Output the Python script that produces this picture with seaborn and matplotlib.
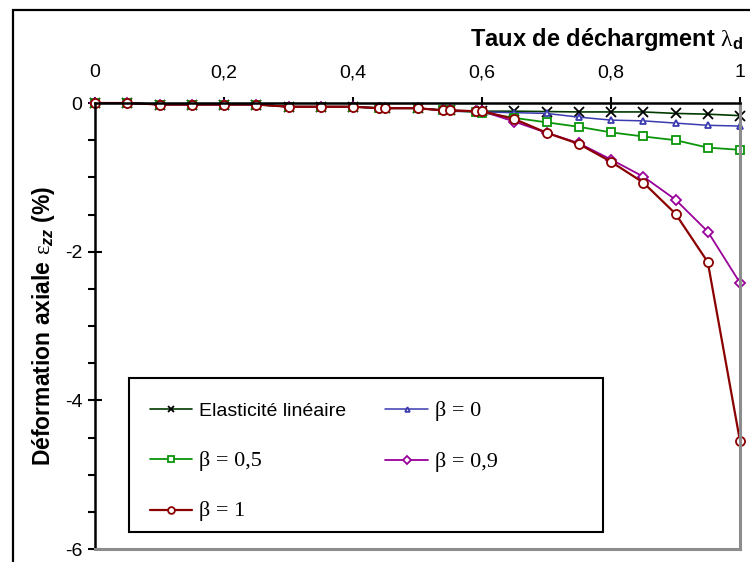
from matplotlib import pyplot as plt
from matplotlib.patches import Rectangle
import pandas as pd
import seaborn as sns
import numpy as np

sns.set_style('white')
plt.rcParams['font.family'] = ['Liberation Sans', 'DejaVu Sans']
plt.rcParams['mathtext.fontset'] = 'custom'
plt.rcParams['mathtext.rm'] = 'Liberation Serif'
plt.rcParams['mathtext.bf'] = 'Liberation Sans:bold'
plt.rcParams['mathtext.it'] = 'Liberation Sans:italic:bold'
for k in ['text.color', 'axes.labelcolor', 'xtick.color', 'ytick.color']:
    plt.rcParams[k] = 'black'

# taux de dechargement
lam_elast = [0, 0.05, 0.1, 0.15, 0.2, 0.25, 0.3, 0.35, 0.4, 0.45, 0.5,
             0.55, 0.6, 0.65, 0.7, 0.75, 0.8, 0.85, 0.9, 0.95, 1.0]
lam = [0, 0.05, 0.1, 0.15, 0.2, 0.25, 0.3, 0.35, 0.4, 0.44, 0.45, 0.5,
       0.54, 0.55, 0.59, 0.6, 0.65, 0.7, 0.75, 0.8, 0.85, 0.9, 0.95, 1.0]

# deformation axiale (%)
eps_elast = [0, 0, -0.02, -0.02, -0.02, -0.02, -0.05, -0.05, -0.05, -0.07, -0.07,
             -0.1, -0.11, -0.11, -0.115, -0.12, -0.12, -0.12, -0.14, -0.15, -0.17]
eps_b0 = [0, 0, -0.02, -0.02, -0.02, -0.02, -0.05, -0.05, -0.05, -0.07, -0.07, -0.07,
          -0.1, -0.11, -0.12, -0.12, -0.13, -0.14, -0.19, -0.23, -0.24, -0.27, -0.3, -0.31]
eps_b05 = [0, 0, -0.02, -0.02, -0.02, -0.02, -0.05, -0.05, -0.05, -0.07, -0.07, -0.07,
           -0.1, -0.1, -0.12, -0.13, -0.2, -0.26, -0.32, -0.395, -0.45, -0.5, -0.6, -0.63]
eps_b09 = [0, 0, -0.02, -0.02, -0.02, -0.02, -0.05, -0.05, -0.05, -0.07, -0.07, -0.07,
           -0.1, -0.1, -0.11, -0.11, -0.25, -0.4, -0.54, -0.76, -0.99, -1.3, -1.73, -2.42]
eps_b1 = [0, 0, -0.02, -0.02, -0.02, -0.02, -0.05, -0.05, -0.05, -0.07, -0.07, -0.07,
          -0.1, -0.1, -0.11, -0.11, -0.215, -0.4, -0.55, -0.79, -1.07, -1.49, -2.14, -4.55]

xticks = [0, 0.2, 0.4, 0.6, 0.8, 1.0]
xticklabels = ['0', '0,2', '0,4', '0,6', '0,8', '1']
yticks = [0, -2, -4, -6]
yticklabels = ['0', '-2', '-4', '-6']

fig = plt.figure(figsize=(7.5, 5.62), dpi=100)
ax = fig.add_axes([0.1267, 0.0231, 0.86, 0.7936])

series = [
    ('Elasticité linéaire', lam_elast, eps_elast, '#003a00', 'x', 6.5, 'black', 1.2),
    ('β = 0', lam, eps_b0, '#3b3bb0', '^', 4.5, '#3b3bb0', 1.1),
    ('β = 0,5', lam, eps_b05, '#0a950a', 's', 5.5, '#0a950a', 1.3),
    ('β = 0,9', lam, eps_b09, '#990099', 'D', 5.5, '#990099', 1.3),
    ('β = 1', lam, eps_b1, '#8b0000', 'o', 6.5, '#8b0000', 1.6),
]
handles = {}
for name, xs, ys, col, mk, ms, mec, lw in series:
    df = pd.DataFrame({'lam': xs, 'eps': ys})
    sns.lineplot(data=df, x='lam', y='eps', ax=ax, color=col, lw=lw, marker=mk,
                 markersize=ms, markeredgecolor=mec, markerfacecolor='white',
                 markeredgewidth=1.3, sort=False, label=name, clip_on=False)
    handles[name] = ax.get_lines()[-1]

ax.set_xlim(0, 1)
ax.set_ylim(-6, 0)
ax.xaxis.tick_top()
ax.set_xticks(xticks)
ax.set_xticklabels(xticklabels, fontsize=14)
ax.set_yticks(yticks)
ax.set_yticklabels(yticklabels, fontsize=14)
ax.set_yticks(np.arange(-6, 0.01, 0.5), minor=True)
ax.tick_params(axis='x', which='major', direction='inout', length=9, width=1.5,
               top=True, bottom=False, pad=11)
ax.tick_params(axis='y', which='major', direction='inout', length=10, width=1.5, left=True, pad=4)
ax.tick_params(axis='y', which='minor', direction='out', length=5, width=1.5, left=True)
ax.set_xlabel('')
ax.set_ylabel('Déformation axiale ' + r'$\mathrm{\varepsilon}_{zz}$' + ' (%)',
              fontsize=16.5, fontweight='bold', labelpad=6)
for side in ['top', 'left']:
    ax.spines[side].set_color('black')
    ax.spines[side].set_linewidth(1.8)
for side in ['right', 'bottom']:
    ax.spines[side].set_color('#8c8c8c')
    ax.spines[side].set_linewidth(2.2)

order = ['Elasticité linéaire', 'β = 0,5', 'β = 1', 'β = 0', 'β = 0,9']
leg = ax.legend([handles[k] for k in order], order, loc='lower left',
                bbox_to_anchor=(0.068, 0.038), ncol=2, fontsize=14, frameon=False,
                handlelength=2.2, handletextpad=0.35, borderaxespad=0,
                labelspacing=1.58, columnspacing=2.0, borderpad=0.55, markerscale=0.75)
for t in leg.get_texts()[1:]:
    t.set_family(['Liberation Serif', 'DejaVu Serif'])
    t.set_fontsize(16)
ax.add_patch(Rectangle((0.053, 0.038), 0.735, 0.345, transform=ax.transAxes,
                       fill=False, edgecolor='black', linewidth=1.5, zorder=5))

fig.text(0.9907, 0.918, 'Taux de déchargment ' + r'$\mathrm{\lambda}_{\mathbf{d}}$',
         ha='right', va='baseline', fontsize=17, fontweight='bold')

fig.patches.append(Rectangle((13 / 750, -0.05), 1.0, 1 - 10 / 562 + 0.05,
                             transform=fig.transFigure, fill=False, edgecolor='black',
                             linewidth=1.6))

fig.savefig('out.png', dpi=100)
